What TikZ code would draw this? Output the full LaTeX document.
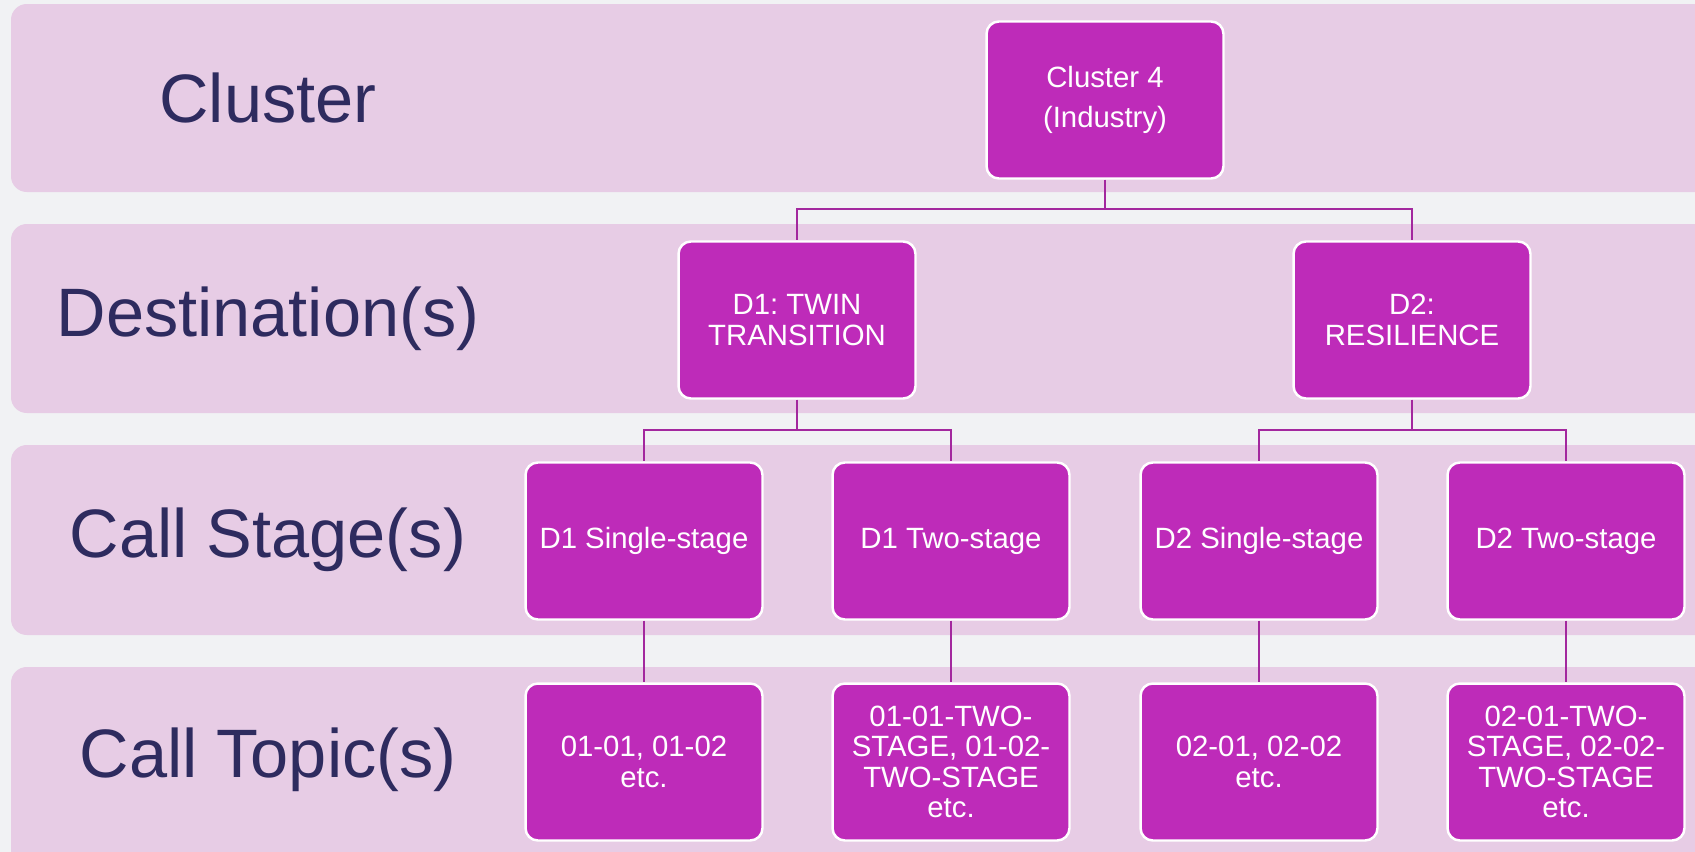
\documentclass[tikz,border=0pt]{standalone}
\usepackage{fontspec}
\setmainfont{Liberation Sans}
\frenchspacing
\definecolor{bgcol}{HTML}{F1F2F4}
\definecolor{bandcol}{HTML}{E7CCE5}
\definecolor{boxcol}{HTML}{BE2BB9}
\definecolor{linecol}{HTML}{A3289E}
\definecolor{labcol}{HTML}{2E2B5F}

\begin{document}
\begin{tikzpicture}[x=0.02cm,y=-0.02cm]
\useasboundingbox (0,0) rectangle (1695,852);
\clip (0,0) rectangle (1695,852);
\fill [bgcol] (0,0) rectangle (1695,852);

\begin{scope}[bandcol, rounded corners=9pt]
    \fill (11,4) rectangle (1740,192);
    \fill (11,224) rectangle (1740,413);
    \fill (11,445) rectangle (1740,635);
    \fill (11,667) rectangle (1740,870);
\end{scope}

\begin{scope}[every node/.style={text=labcol, font=\fontsize{39}{44}\selectfont}]
    \node (l1) at (268,98) {Cluster};
    \node (l2) at (268,319) {Destination(s)};
    \node (l3) at (268,540) {Call Stage(s)};
    \node (l4) at (268,760) {Call Topic(s)};
\end{scope}

\begin{scope}[every node/.style={rectangle, rounded corners=7pt, draw=white, line width=1.4pt, fill=boxcol, text=white, align=center, minimum width=4.74cm, minimum height=3.14cm, inner sep=2pt, font=\fontsize{16.7}{17.2}\selectfont}]
    \node (a) at (1105,100) {Cluster 4\\[6pt](Industry)};
    \node (b) at (797,320) {D1: TWIN\\TRANSITION};
    \node (c) at (1412,320) {D2:\\RESILIENCE};
    \node (d) at (644,541) {D1 Single-stage};
    \node (e) at (951,541) {D1 Two-stage};
    \node (f) at (1259,541) {D2 Single-stage};
    \node (g) at (1566,541) {D2 Two-stage};
    \node (h) at (644,762) {01-01, 01-02\\etc.};
    \node (i) at (951,762) {01-01-TWO-\\STAGE, 01-02-\\TWO-STAGE\\etc.};
    \node (j) at (1259,762) {02-01, 02-02\\etc.};
    \node (k) at (1566,762) {02-01-TWO-\\STAGE, 02-02-\\TWO-STAGE\\etc.};
\end{scope}

\begin{scope}[linecol, line width=1.5pt]
    \coordinate (p1) at (1105,209);
    \coordinate (p2) at (797,430);
    \coordinate (p3) at (1412,430);

    \draw (a) -- (p1) -| (b);
    \draw (p1) -| (c);
    \draw (b) -- (p2) -| (d);
    \draw (p2) -| (e);
    \draw (c) -- (p3) -| (f);
    \draw (p3) -| (g);
    \path (d) edge (h);
    \path (e) edge (i);
    \path (f) edge (j);
    \path (g) edge (k);
\end{scope}

\end{tikzpicture}
\end{document}
